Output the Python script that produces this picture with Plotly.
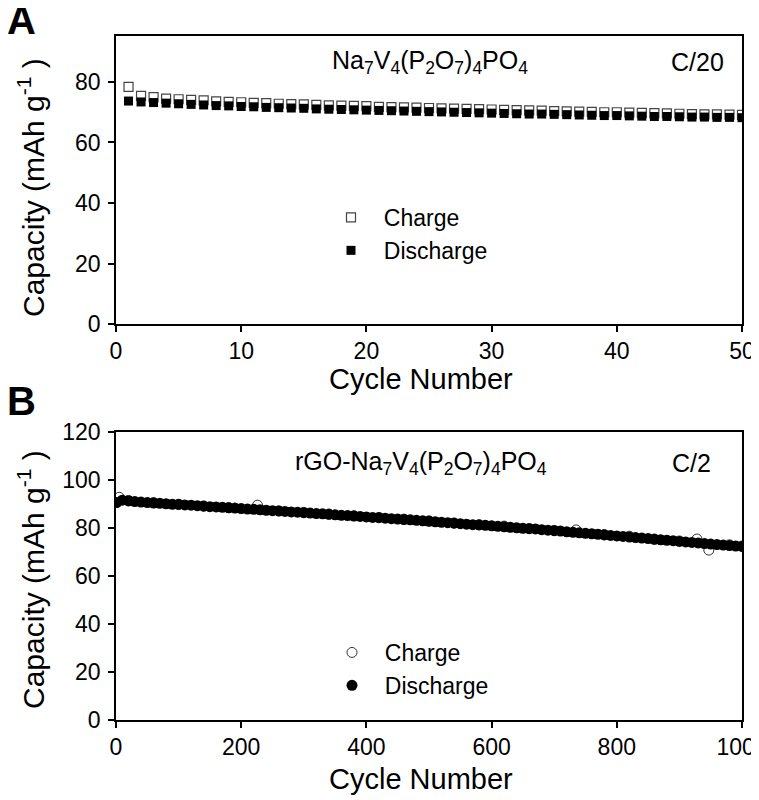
import plotly.graph_objects as go

# ---------------- Panel A data (C/20) ----------------
cycles_a = list(range(1, 51))
charge_a = [78.4, 75.4, 75.0, 74.5, 74.3, 74.1, 73.9, 73.6, 73.4, 73.3,
            73.1, 73.0, 72.8, 72.7, 72.6, 72.4, 72.3, 72.2, 72.1, 72.0,
            71.8, 71.7, 71.6, 71.5, 71.4, 71.3, 71.2, 71.1, 71.0, 70.9,
            70.8, 70.7, 70.6, 70.5, 70.4, 70.3, 70.2, 70.1, 70.0, 70.0,
            69.9, 69.8, 69.7, 69.6, 69.5, 69.4, 69.3, 69.3, 69.2, 69.1]
discharge_a = [73.7, 73.4, 73.2, 73.0, 72.8, 72.6, 72.4, 72.2, 72.1, 71.9,
               71.8, 71.6, 71.5, 71.4, 71.3, 71.1, 71.0, 70.9, 70.8, 70.7,
               70.6, 70.5, 70.4, 70.3, 70.2, 70.1, 70.0, 69.9, 69.8, 69.7,
               69.6, 69.5, 69.4, 69.4, 69.3, 69.2, 69.1, 69.0, 68.9, 68.9,
               68.8, 68.7, 68.6, 68.6, 68.5, 68.4, 68.4, 68.3, 68.3, 68.2]

# ---------------- Panel B data (C/2) ----------------
cycles_b = [1, 10, 20, 30, 40, 50, 60, 70, 80, 90, 100,
            110, 120, 130, 140, 150, 160, 170, 180, 190, 200,
            210, 220, 230, 240, 250, 260, 270, 280, 290, 300,
            310, 320, 330, 340, 350, 360, 370, 380, 390, 400,
            410, 420, 430, 440, 450, 460, 470, 480, 490, 500,
            510, 520, 530, 540, 550, 560, 570, 580, 590, 600,
            610, 620, 630, 640, 650, 660, 670, 680, 690, 700,
            710, 720, 730, 740, 750, 760, 770, 780, 790, 800,
            810, 820, 830, 840, 850, 860, 870, 880, 890, 900,
            910, 920, 930, 940, 950, 960, 970, 980, 990, 1000]
discharge_b = [90.6, 91.6, 91.3, 91.0, 90.8, 90.6, 90.4, 90.3, 90.1, 89.9, 89.8,
               89.6, 89.5, 89.3, 89.1, 88.9, 88.8, 88.6, 88.4, 88.3, 88.1,
               87.9, 87.8, 87.6, 87.4, 87.2, 87.1, 86.9, 86.7, 86.6, 86.4,
               86.2, 86.0, 85.9, 85.7, 85.5, 85.3, 85.2, 85.0, 84.8, 84.6,
               84.4, 84.3, 84.1, 83.9, 83.7, 83.5, 83.4, 83.2, 83.0, 82.8,
               82.6, 82.4, 82.2, 82.0, 81.8, 81.6, 81.4, 81.3, 81.1, 80.9,
               80.7, 80.5, 80.3, 80.1, 79.9, 79.7, 79.6, 79.3, 79.1, 78.9,
               78.7, 78.4, 78.2, 78.0, 77.8, 77.6, 77.4, 77.1, 76.9, 76.7,
               76.5, 76.2, 76.0, 75.8, 75.6, 75.3, 75.1, 74.9, 74.7, 74.4,
               74.2, 74.0, 73.8, 73.5, 73.3, 73.1, 72.9, 72.7, 72.5, 72.3]
charge_cycles_b = [5, 20, 60, 100, 140, 180, 226, 260, 300, 340, 380, 420,
                   460, 500, 540, 580, 620, 660, 700, 735, 780, 820, 860,
                   900, 928, 947, 980, 1000]
charge_b = [92.8, 91.5, 90.6, 89.9, 89.2, 88.5, 89.5, 87.1, 86.5, 85.8, 85.1, 84.4,
            83.7, 83.0, 82.1, 81.4, 80.8, 79.8, 79.0, 79.2, 77.3, 76.6, 75.4,
            74.6, 75.4, 70.8, 73.0, 72.5]

# ---------------- Text ----------------
title_a = "Na<sub>7</sub>V<sub>4</sub>(P<sub>2</sub>O<sub>7</sub>)<sub>4</sub>PO<sub>4</sub>"
title_b = "rGO-Na<sub>7</sub>V<sub>4</sub>(P<sub>2</sub>O<sub>7</sub>)<sub>4</sub>PO<sub>4</sub>"
rate_a = "C/20"
rate_b = "C/2"
ylabel = "Capacity (mAh g<sup>-1</sup> )"
xlabel = "Cycle Number"
ticks_a_x = [0, 10, 20, 30, 40, 50]
ticks_a_y = [0, 20, 40, 60, 80]
ticks_b_x = [0, 200, 400, 600, 800, 1000]
ticks_b_y = [0, 20, 40, 60, 80, 100, 120]

OFF = 8                      # page body margin of the written html
W, H = 759 - OFF, 800 - OFF
L, R, T, B = 116, 742, 36, 720   # plot-area box in page pixels (both panels)
FONT = "Liberation Sans, Arial, Helvetica, sans-serif"

def px(x):
    return (x - L) / (R - L)

def py(y):
    return (B - y) / (B - T)

fig = go.Figure()

fig.add_trace(go.Scatter(x=cycles_a, y=charge_a, mode="markers", name="\u00a0\u00a0Charge",
                         marker=dict(symbol="square-open", size=9, color="#444444", line=dict(width=1.2)),
                         xaxis="x", yaxis="y", legend="legend"))
fig.add_trace(go.Scatter(x=cycles_a, y=discharge_a, mode="markers", name="\u00a0\u00a0Discharge",
                         marker=dict(symbol="square", size=9, color="black"),
                         xaxis="x", yaxis="y", legend="legend"))
fig.add_trace(go.Scatter(x=charge_cycles_b, y=charge_b, mode="markers", name="\u00a0\u00a0Charge",
                         marker=dict(symbol="circle-open", size=10, color="black", line=dict(width=0.8)),
                         xaxis="x2", yaxis="y2", legend="legend2"))
fig.add_trace(go.Scatter(x=cycles_b, y=discharge_b, mode="markers", name="\u00a0\u00a0Discharge",
                         marker=dict(symbol="circle", size=11, color="black"),
                         xaxis="x2", yaxis="y2", legend="legend2"))

axis_common = dict(showline=True, linecolor="black", linewidth=1.5, mirror=True,
                   ticks="outside", ticklen=6, tickwidth=1.5, tickcolor="black",
                   showgrid=False, zeroline=False, automargin=False,
                   tickfont=dict(family=FONT, size=23, color="black"))
xaxis_extra = dict(ticklabeloverflow="allow")
yaxis_extra = dict(ticklabelstandoff=3)

fig.update_layout(
    width=W, height=H,
    margin=dict(l=L - OFF, r=W - (R - OFF), t=T - OFF, b=H - (B - OFF), autoexpand=False),
    paper_bgcolor="white", plot_bgcolor="white",
    font=dict(family=FONT, color="black"),
    xaxis=dict(domain=[0, 1], range=[0, 50], tickvals=ticks_a_x, anchor="y", **axis_common, **xaxis_extra),
    yaxis=dict(domain=[py(324), 1], range=[0, 95.2], tickvals=ticks_a_y, anchor="x", **axis_common, **yaxis_extra),
    xaxis2=dict(domain=[0, 1], range=[0, 1000], tickvals=ticks_b_x, anchor="y2", **axis_common, **xaxis_extra),
    yaxis2=dict(domain=[0, py(432)], range=[0, 120], tickvals=ticks_b_y, anchor="x2", **axis_common, **yaxis_extra),
    legend=dict(x=px(331), y=py(196), xanchor="left", yanchor="top", bgcolor="rgba(0,0,0,0)",
                font=dict(family=FONT, size=23, color="black"), tracegroupgap=0),
    legend2=dict(x=px(332), y=py(631), xanchor="left", yanchor="top", bgcolor="rgba(0,0,0,0)",
                 font=dict(family=FONT, size=23, color="black"), tracegroupgap=0),
    showlegend=True,
)

ann = []
ann.append(dict(text="<b>A</b>", x=px(5), y=py(20), xanchor="left", yanchor="middle", font=dict(size=40)))
ann.append(dict(text="<b>B</b>", x=px(5), y=py(401), xanchor="left", yanchor="middle", font=dict(size=40)))
ann.append(dict(text=title_a, x=px(330), y=py(62), xanchor="left", yanchor="middle", font=dict(size=25)))
ann.append(dict(text=rate_a, x=px(726), y=py(62), xanchor="right", yanchor="middle", font=dict(size=25)))
ann.append(dict(text=title_b, x=px(293), y=py(463), xanchor="left", yanchor="middle", font=dict(size=25)))
ann.append(dict(text=rate_b, x=px(713), y=py(463), xanchor="right", yanchor="middle", font=dict(size=25)))
ann.append(dict(text=xlabel, x=px(421), y=py(379), xanchor="center", yanchor="middle", font=dict(size=29)))
ann.append(dict(text=xlabel, x=px(421), y=py(779), xanchor="center", yanchor="middle", font=dict(size=29)))
ann.append(dict(text=ylabel, x=px(31), y=py(188), xanchor="center", yanchor="middle", textangle=-90, font=dict(size=30)))
ann.append(dict(text=ylabel, x=px(31), y=py(580), xanchor="center", yanchor="middle", textangle=-90, font=dict(size=30)))
for a in ann:
    a.update(xref="paper", yref="paper", showarrow=False)
    a["font"].update(family=FONT, color="black")
fig.update_layout(annotations=ann)

fig.write_html("out.html")
